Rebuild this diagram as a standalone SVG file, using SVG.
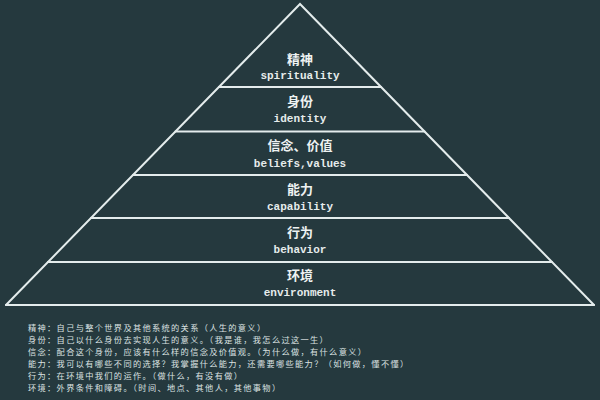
<svg xmlns="http://www.w3.org/2000/svg" width="600" height="400" viewBox="0 0 600 400">
<style>
.ln{stroke:#e4ecec;stroke-width:2;fill:none;stroke-linecap:round}
.cn{font-family:"Noto Sans CJK SC","Noto Sans",sans-serif;font-size:13px;font-weight:bold;fill:#eef2f2;text-anchor:middle}
.en{font-family:"Liberation Mono","DejaVu Sans Mono",monospace;font-size:11px;font-weight:bold;fill:#e6ecec;text-anchor:middle}
.note{font-family:"Noto Sans CJK SC","Noto Sans",sans-serif;font-size:8.2px;letter-spacing:1.35px;fill:#dce2e2}
</style>
<rect x="0" y="0" width="600" height="400" fill="#25393e"/>
<g id="connectors">
<polyline class="ln" points="6,305 300,4 594,305"/>
</g>
<g id="spirituality">
<line class="ln" x1="219" y1="87" x2="381" y2="87"/>
<text class="cn" x="300" y="64">精神</text>
<text class="en" x="300" y="79">spirituality</text>
</g>
<g id="identity">
<line class="ln" x1="175.5" y1="131.5" x2="424.5" y2="131.5"/>
<text class="cn" x="300" y="106">身份</text>
<text class="en" x="300" y="122">identity</text>
</g>
<g id="beliefs">
<line class="ln" x1="133" y1="175" x2="467" y2="175"/>
<text class="cn" x="300" y="150">信念、价值</text>
<text class="en" x="300" y="166.5">beliefs,values</text>
</g>
<g id="capability">
<line class="ln" x1="91" y1="218" x2="509" y2="218"/>
<text class="cn" x="300" y="194">能力</text>
<text class="en" x="300" y="210">capability</text>
</g>
<g id="behavior">
<line class="ln" x1="48" y1="262" x2="552" y2="262"/>
<text class="cn" x="300" y="237">行为</text>
<text class="en" x="300" y="253">behavior</text>
</g>
<g id="environment">
<line class="ln" x1="6" y1="305" x2="594" y2="305"/>
<text class="cn" x="300" y="280">环境</text>
<text class="en" x="300" y="296">environment</text>
</g>
<g id="notes">
<text class="note" x="28" y="331">精神：自己与整个世界及其他系统的关系（人生的意义）</text>
<text class="note" x="28" y="343">身份：自己以什么身份去实现人生的意义。（我是谁，我怎么过这一生）</text>
<text class="note" x="28" y="355">信念：配合这个身份，应该有什么样的信念及价值观。（为什么做，有什么意义）</text>
<text class="note" x="28" y="367">能力：我可以有哪些不同的选择？我掌握什么能力，还需要哪些能力？（如何做，懂不懂）</text>
<text class="note" x="28" y="379">行为：在环境中我们的运作。（做什么，有没有做）</text>
<text class="note" x="28" y="391">环境：外界条件和障碍。（时间、地点、其他人，其他事物）</text>
</g>
</svg>
